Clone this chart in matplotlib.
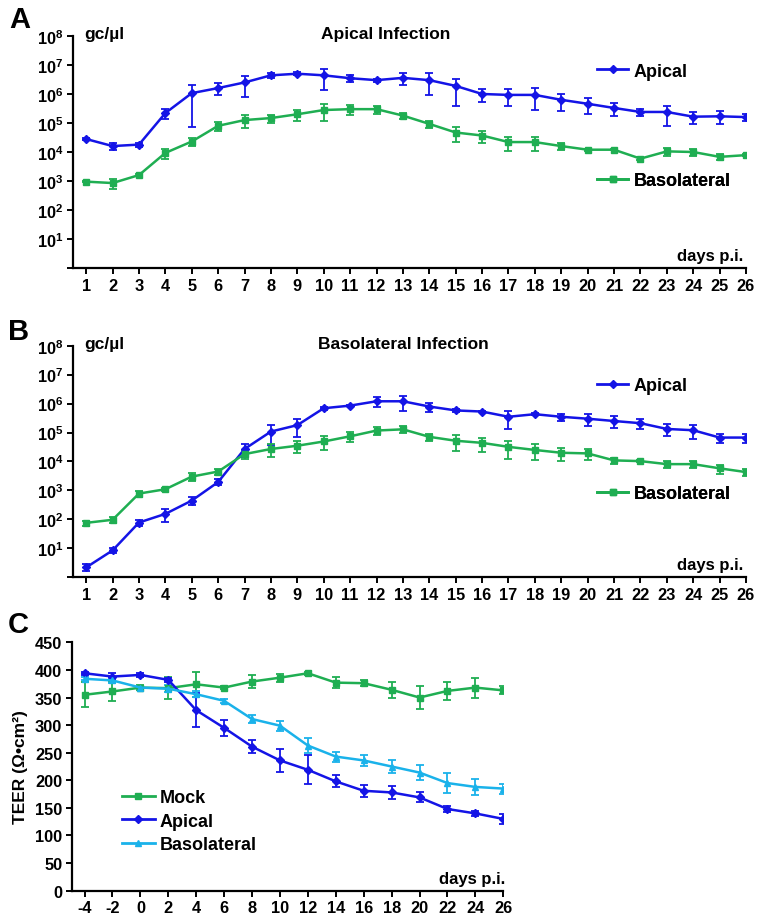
import matplotlib
matplotlib.use("Agg")
import matplotlib.pyplot as plt
from matplotlib.lines import Line2D
from matplotlib.ticker import NullLocator
import numpy as np

plt.rcParams['font.family'] = ['Liberation Sans', 'DejaVu Sans']
plt.rcParams['font.weight'] = 'bold'
plt.rcParams['axes.unicode_minus'] = False
plt.rcParams['mathtext.fontset'] = 'custom'
plt.rcParams['mathtext.rm'] = 'Liberation Sans:bold'
plt.rcParams['mathtext.bf'] = 'Liberation Sans:bold'
plt.rcParams['mathtext.default'] = 'bf'

# colours
c_api = '#1414e6'
c_baso = '#1fae52'
c_light = '#1ab2ea'

# ---- panel A: apical infection (gc/ul) ----
days = np.arange(1, 27)
a_api = [2.8e4, 1.6e4, 1.8e4, 2.2e5, 1.07e6, 1.6e6, 2.5e6, 4.4e6, 5.0e6, 4.4e6,
         3.5e6, 3.0e6, 3.6e6, 3.0e6, 1.9e6, 1.0e6, 9.3e5, 9.3e5, 6.3e5, 4.6e5,
         3.3e5, 2.4e5, 2.4e5, 1.65e5, 1.7e5, 1.6e5]
a_api_sd = [3e3, 4e3, 3e3, 8e4, 1.0e6, 7e5, 1.7e6, 8e5, 6e5, 3e6,
            1.0e6, 4e5, 1.6e6, 2.1e6, 1.5e6, 4.5e5, 5.5e5, 6.5e5, 3.7e5, 2.5e5,
            1.5e5, 6e4, 1.6e5, 7e4, 8e4, 4e4]
a_baso = [950, 850, 1600, 9300, 2.3e4, 8e4, 1.26e5, 1.48e5, 2.0e5, 2.8e5,
          3.0e5, 3.0e5, 1.8e5, 9.3e4, 4.7e4, 3.7e4, 2.2e4, 2.2e4, 1.6e4, 1.2e4,
          1.2e4, 5.9e3, 1.05e4, 1.0e4, 6.8e3, 7.8e3]
a_baso_sd = [60, 330, 150, 3.7e3, 7e3, 2.8e4, 6e4, 4.5e4, 8e4, 1.6e5,
             1.1e5, 9e4, 4e4, 2.7e4, 2.4e4, 1.6e4, 1.1e4, 1.1e4, 4e3, 1e3,
             6e2, 7e2, 3e3, 2.5e3, 1.5e3, 5e2]

# ---- panel B: basolateral infection (gc/ul) ----
b_api = [2.2, 8.5, 78, 155, 446, 1950, 2.7e4, 1.08e5, 1.8e5, 6.9e5,
         8.5e5, 1.2e6, 1.2e6, 7.9e5, 5.8e5, 5.3e5, 3.5e5, 4.3e5, 3.5e5, 3.0e5,
         2.5e5, 2.1e5, 1.33e5, 1.2e5, 6.7e4, 6.7e4]
b_api_sd = [0.6, 1.5, 20, 75, 140, 450, 1.3e4, 7e4, 1.1e5, 9e4,
            5e4, 4.5e5, 6.5e5, 2.8e5, 5e4, 3e4, 2.2e5, 4e4, 1.0e5, 1.3e5,
            1.1e5, 8e4, 6e4, 6e4, 2.5e4, 2.5e4]
b_baso = [76, 97, 780, 1100, 3000, 4500, 1.8e4, 2.7e4, 3.5e4, 4.9e4,
          7.4e4, 1.17e5, 1.29e5, 7.1e4, 5.2e4, 4.4e4, 3.2e4, 2.5e4, 2.0e4, 1.9e4,
          1.09e4, 1.03e4, 8.1e3, 8.1e3, 5.8e3, 4.3e3]
b_baso_sd = [15, 23, 200, 150, 900, 1000, 6e3, 1.3e4, 1.5e4, 2.5e4,
             2.8e4, 3.8e4, 3.6e4, 1.9e4, 2.9e4, 2.3e4, 2.0e4, 1.4e4, 1.0e4, 8e3,
             2.6e3, 8e2, 2e3, 2e3, 2e3, 1.1e3]

# ---- panel C: TEER ----
c_days = np.arange(-4, 27, 2)
mock = [355, 361, 368, 367, 374, 368, 379, 386, 394, 377, 376, 364, 350, 362, 368, 363]
mock_sd = [23, 18, 4, 20, 23, 3, 12, 7, 3, 10, 6, 15, 20, 17, 18, 7]
apical = [394, 388, 391, 382, 327, 295, 261, 236, 219, 198, 181, 178, 169, 148, 140, 130]
apical_sd = [3, 6, 4, 4, 31, 14, 12, 21, 26, 11, 11, 11, 9, 6, 4, 9]
baso = [384, 381, 368, 366, 356, 344, 311, 299, 263, 243, 236, 225, 214, 195, 188, 185]
baso_sd = [3, 4, 3, 6, 5, 4, 8, 9, 14, 9, 10, 11, 14, 18, 14, 9]

log_ticks = [1, 10, 1e2, 1e3, 1e4, 1e5, 1e6, 1e7, 1e8]
log_labels = ['', '$10^{1}$', '$10^{2}$', '$10^{3}$', '$10^{4}$', '$10^{5}$',
              '$10^{6}$', '$10^{7}$', '$10^{8}$']

fig = plt.figure(figsize=(7.62, 9.2), dpi=100)


def style_axes(ax):
    ax.spines['top'].set_visible(False)
    ax.spines['right'].set_visible(False)
    ax.spines['left'].set_linewidth(1.6)
    ax.spines['bottom'].set_linewidth(1.6)
    ax.tick_params(direction='out', width=1.4, length=4, labelsize=11.8, pad=3)


def draw_series(ax, x, y, sd, color, marker, ms, log=False):
    y = np.array(y, dtype=float)
    sd = np.array(sd, dtype=float)
    lo = np.minimum(sd, y * 0.97) if log else sd
    ax.errorbar(x, y, yerr=[lo, sd], color=color, marker=marker, ms=ms,
                lw=1.8, elinewidth=1.3, capsize=3, capthick=1.3)


def legend_one(ax, color, marker, ms, label, xy):
    h = Line2D([], [], color=color, marker=marker, ms=ms, lw=2)
    leg = ax.legend([h], [label], loc='center left', bbox_to_anchor=xy,
                    frameon=False, fontsize=13, handlelength=1.7,
                    handletextpad=0.3, borderpad=0, borderaxespad=0)
    ax.add_artist(leg)


def log_panel(rect, api, api_sd, baso_v, baso_sd, title, title_x, ly_api, ly_baso):
    ax = fig.add_axes(rect)
    draw_series(ax, days, api, api_sd, c_api, 'D', 4, log=True)
    draw_series(ax, days, baso_v, baso_sd, c_baso, 's', 4, log=True)
    ax.set_yscale('log')
    ax.set_ylim(1, 1e8)
    ax.set_yticks(log_ticks)
    ax.set_yticklabels(log_labels)
    ax.yaxis.set_minor_locator(NullLocator())
    ax.set_xlim(0.5, 26)
    ax.set_xticks(days)
    style_axes(ax)
    ax.text(0.016, 1.01, 'gc/µl', transform=ax.transAxes, fontsize=12.5,
            fontweight='bold', va='center', ha='left')
    ax.text(title_x, 1.01, title, transform=ax.transAxes, fontsize=12.5,
            fontweight='bold', va='center', ha='center')
    ax.text(0.996, 0.056, 'days p.i.', transform=ax.transAxes, fontsize=12,
            fontweight='bold', va='center', ha='right')
    legend_one(ax, c_api, 'D', 4, 'Apical', (0.779, ly_api))
    legend_one(ax, c_baso, 's', 4, 'Basolateral', (0.779, ly_baso))
    return ax


log_panel([0.0958, 0.7076, 0.8832, 0.2522], a_api, a_api_sd, a_baso, a_baso_sd,
          'Apical Infection', 0.464, 0.849, 0.375)
log_panel([0.0958, 0.3714, 0.8832, 0.2518], b_api, b_api_sd, b_baso, b_baso_sd,
          'Basolateral Infection', 0.491, 0.827, 0.36)

# panel C
axc = fig.add_axes([0.0945, 0.0308, 0.566, 0.2699])
draw_series(axc, c_days, mock, mock_sd, c_baso, 's', 4.5)
draw_series(axc, c_days, apical, apical_sd, c_api, 'D', 4.5)
draw_series(axc, c_days, baso, baso_sd, c_light, '^', 5)
axc.set_xlim(-4.9, 26)
axc.set_ylim(0, 450)
axc.set_xticks(c_days)
axc.set_yticks(np.arange(0, 451, 50))
style_axes(axc)
axc.set_ylabel('TEER (Ω•cm²)', fontsize=12.5, fontweight='bold', labelpad=5)
axc.text(1.005, 0.047, 'days p.i.', transform=axc.transAxes, fontsize=12,
         fontweight='bold', va='center', ha='right')
handles = [Line2D([], [], color=c_baso, marker='s', ms=4.5, lw=2),
           Line2D([], [], color=c_api, marker='D', ms=4.5, lw=2),
           Line2D([], [], color=c_light, marker='^', ms=5, lw=2)]
axc.legend(handles, ['Mock', 'Apical', 'Basolateral'], loc='center left',
           bbox_to_anchor=(0.116, 0.28), frameon=False, fontsize=13,
           handlelength=1.8, handletextpad=0.3, labelspacing=0.35,
           borderpad=0, borderaxespad=0)

# panel letters
fig.text(0.012, 1 - 20 / 920, 'A', fontsize=21, fontweight='bold', va='center')
fig.text(0.010, 1 - 332 / 920, 'B', fontsize=21, fontweight='bold', va='center')
fig.text(0.010, 1 - 625 / 920, 'C', fontsize=21, fontweight='bold', va='center')

fig.savefig('out.png', dpi=100)
